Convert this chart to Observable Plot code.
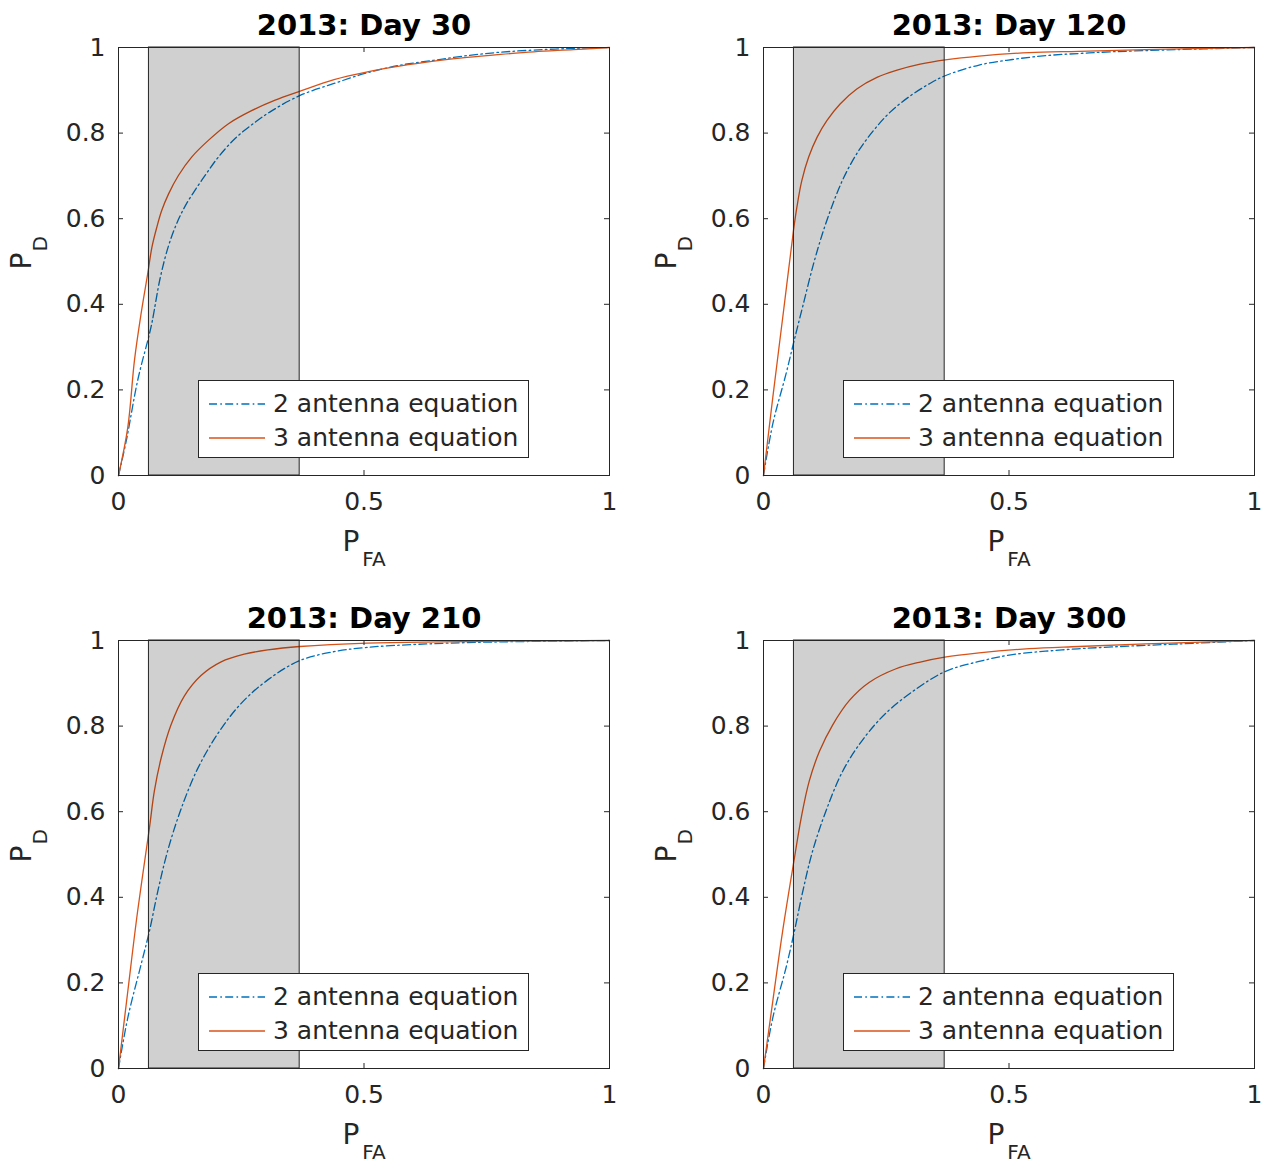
<!DOCTYPE html>
<html>
<head>
<meta charset="utf-8">
<script src="https://cdn.jsdelivr.net/npm/d3@7"></script>
<script src="https://cdn.jsdelivr.net/npm/@observablehq/plot@0.6"></script>
<style>
  html, body { margin: 0; padding: 0; background: #fff; }
  #root { position: relative; width: 1271px; height: 1164px; background: #fff; font-family: 'DejaVu Sans', sans-serif; }
  .panel { position: absolute; width: 635px; height: 590px; }
  .legend { position: absolute; left: 198px; top: 380px; width: 331px; height: 78px; box-sizing: border-box;
            border: 1px solid #262626; background: #fff; }
  .legend .row { position: absolute; left: 0; height: 30px; width: 100%; }
  .legend svg { position: absolute; left: 10px; top: 0; }
  .legend span { position: absolute; left: 74px; top: 0; line-height: 30px; font-size: 25px; color: #262626; white-space: nowrap; }
</style>
</head>
<body>
<div id="root"></div>
<script>
// ---- data ----
const titles = ["2013: Day 30", "2013: Day 120", "2013: Day 210", "2013: Day 300"];
const seriesNames = ["2 antenna equation", "3 antenna equation"];
const xTicks = [0, 0.5, 1];
const yTicks = [0, 0.2, 0.4, 0.6, 0.8, 1];
const shadeStart = 0.062;
const shadeEnd = 0.369;

// Day 30
const pfa2_d30 = [0, 0.016, 0.039, 0.063, 0.069, 0.085, 0.102, 0.119, 0.136, 0.156, 0.180, 0.204, 0.238, 0.272, 0.312, 0.370, 0.439, 0.507, 0.575, 0.642, 0.710, 0.778, 0.846, 0.927, 1];
const pd2_d30  = [0, 0.082, 0.222, 0.331, 0.362, 0.462, 0.537, 0.590, 0.630, 0.667, 0.707, 0.745, 0.788, 0.820, 0.852, 0.888, 0.916, 0.941, 0.959, 0.970, 0.981, 0.989, 0.994, 0.998, 1];
const pfa3_d30 = [0, 0.019, 0.0325, 0.046, 0.060, 0.068, 0.078, 0.088, 0.102, 0.122, 0.149, 0.183, 0.224, 0.272, 0.319, 0.370, 0.439, 0.507, 0.575, 0.642, 0.710, 0.778, 0.846, 0.927, 1];
const pd3_d30  = [0, 0.113, 0.269, 0.378, 0.475, 0.533, 0.580, 0.619, 0.658, 0.701, 0.744, 0.783, 0.822, 0.853, 0.877, 0.898, 0.925, 0.943, 0.957, 0.968, 0.977, 0.984, 0.990, 0.995, 1];

// Day 120
const pfa2_d120 = [0, 0.019, 0.046, 0.063, 0.081, 0.102, 0.122, 0.143, 0.163, 0.190, 0.224, 0.258, 0.299, 0.339, 0.370, 0.439, 0.507, 0.575, 0.642, 0.710, 0.812, 1];
const pd2_d120  = [0, 0.121, 0.238, 0.318, 0.400, 0.495, 0.572, 0.640, 0.695, 0.752, 0.806, 0.849, 0.887, 0.916, 0.934, 0.959, 0.972, 0.981, 0.986, 0.990, 0.994, 1];
const pfa3_d120 = [0, 0.019, 0.041, 0.061, 0.068, 0.078, 0.092, 0.109, 0.129, 0.156, 0.190, 0.231, 0.272, 0.319, 0.370, 0.439, 0.541, 0.642, 0.778, 1];
const pd3_d120  = [0, 0.183, 0.386, 0.572, 0.627, 0.689, 0.744, 0.790, 0.829, 0.868, 0.903, 0.930, 0.947, 0.961, 0.971, 0.980, 0.988, 0.991, 0.995, 1];

// Day 210
const pfa2_d210 = [0, 0.019, 0.046, 0.063, 0.080, 0.100, 0.127, 0.161, 0.202, 0.249, 0.304, 0.369, 0.439, 0.507, 0.608, 0.744, 1];
const pd2_d210  = [0, 0.119, 0.243, 0.321, 0.414, 0.508, 0.605, 0.700, 0.782, 0.852, 0.908, 0.953, 0.974, 0.984, 0.991, 0.996, 1];
const pfa3_d210 = [0, 0.019, 0.039, 0.063, 0.073, 0.087, 0.107, 0.134, 0.168, 0.209, 0.256, 0.304, 0.369, 0.507, 1];
const pd3_d210  = [0, 0.181, 0.368, 0.562, 0.648, 0.726, 0.803, 0.870, 0.918, 0.950, 0.968, 0.978, 0.986, 0.994, 1];

// Day 300
const pfa2_d300 = [0, 0.019, 0.046, 0.063, 0.080, 0.100, 0.127, 0.161, 0.202, 0.249, 0.304, 0.369, 0.439, 0.507, 0.608, 0.710, 0.846, 1];
const pd2_d300  = [0, 0.119, 0.236, 0.321, 0.414, 0.508, 0.601, 0.694, 0.768, 0.830, 0.881, 0.927, 0.951, 0.967, 0.978, 0.985, 0.992, 1];
const pfa3_d300 = [0, 0.019, 0.039, 0.063, 0.077, 0.093, 0.114, 0.141, 0.175, 0.215, 0.270, 0.317, 0.369, 0.439, 0.541, 0.642, 0.778, 1];
const pd3_d300  = [0, 0.158, 0.321, 0.492, 0.587, 0.671, 0.741, 0.803, 0.860, 0.902, 0.934, 0.949, 0.961, 0.971, 0.981, 0.986, 0.992, 1];

const pfa2 = [pfa2_d30, pfa2_d120, pfa2_d210, pfa2_d300];
const pd2  = [pd2_d30, pd2_d120, pd2_d210, pd2_d300];
const pfa3 = [pfa3_d30, pfa3_d120, pfa3_d210, pfa3_d300];
const pd3  = [pd3_d30, pd3_d120, pd3_d210, pd3_d300];

// ---- styles ----
const blue = "#0072BD";
const orange = "#D95319";
const axisColor = "#262626";
const dashDot = "8,3.3,1.6,3.3";

const W = 635, H = 590, ML = 118, MR = 26, MT = 47, MB = 115;
const plotW = W - ML - MR, plotH = H - MT - MB;

const root = document.getElementById("root");

for (let i = 0; i < 4; i++) {
  const d2 = pfa2[i].map((x, j) => ({x, y: pd2[i][j]}));
  const d3_ = pfa3[i].map((x, j) => ({x, y: pd3[i][j]}));
  const shade = [{x1: shadeStart, x2: shadeEnd, y1: 0, y2: 1}];

  const chart = Plot.plot({
    width: W, height: H,
    marginLeft: ML, marginRight: MR, marginTop: MT, marginBottom: MB,
    x: {domain: [0, 1]},
    y: {domain: [0, 1]},
    style: {fontFamily: "'DejaVu Sans', sans-serif", fontSize: "25px", color: axisColor, background: "transparent", overflow: "visible"},
    marks: [
      Plot.line(d2, {x: "x", y: "y", stroke: blue, strokeWidth: 1.3, strokeDasharray: dashDot, curve: "catmull-rom"}),
      Plot.line(d3_, {x: "x", y: "y", stroke: orange, strokeWidth: 1.3, curve: "catmull-rom"}),
      Plot.rect(shade, {x1: "x1", x2: "x2", y1: "y1", y2: "y2", fill: "black", fillOpacity: 0.185, stroke: axisColor, strokeWidth: 1}),
      Plot.frame({stroke: axisColor, strokeWidth: 1}),
      // inward ticks on all four sides
      Plot.tickX(xTicks, {x: d => d, insetTop: plotH - 5, stroke: axisColor}),
      Plot.tickX(xTicks, {x: d => d, insetBottom: plotH - 5, stroke: axisColor}),
      Plot.tickY(yTicks, {y: d => d, insetRight: plotW - 5, stroke: axisColor}),
      Plot.tickY(yTicks, {y: d => d, insetLeft: plotW - 5, stroke: axisColor}),
      Plot.axisX({ticks: xTicks, tickSize: 0, tickPadding: 17, tickFormat: d => String(d), label: null}),
      Plot.axisY({ticks: yTicks, tickSize: 0, tickPadding: 13, tickFormat: d => String(d), label: null}),
      // title
      Plot.text([titles[i]], {frameAnchor: "top", dy: -13, lineAnchor: "bottom", fontSize: 29, fontWeight: "bold", fill: "black"}),
      // x label P_FA
      Plot.text(["P"], {frameAnchor: "bottom", dx: -13, dy: 75, lineAnchor: "bottom", fontSize: 28, fill: axisColor}),
      Plot.text(["FA"], {frameAnchor: "bottom", dx: 10, dy: 90, lineAnchor: "bottom", fontSize: 20, fill: axisColor}),
      // y label P_D
      Plot.text(["P"], {frameAnchor: "left", dx: -96, dy: 8, rotate: -90, lineAnchor: "middle", fontSize: 28, fill: axisColor}),
      Plot.text(["D"], {frameAnchor: "left", dx: -78, dy: -10, rotate: -90, lineAnchor: "middle", fontSize: 20, fill: axisColor})
    ]
  });

  const panel = document.createElement("div");
  panel.className = "panel";
  panel.style.left = ((i % 2) * 645) + "px";
  panel.style.top = (Math.floor(i / 2) * 593) + "px";
  panel.appendChild(chart);

  // legend
  const legend = document.createElement("div");
  legend.className = "legend";
  const rowsInfo = [
    {name: seriesNames[0], color: blue, dash: dashDot, top: 8},
    {name: seriesNames[1], color: orange, dash: null, top: 42}
  ];
  for (const r of rowsInfo) {
    const row = document.createElement("div");
    row.className = "row";
    row.style.top = r.top + "px";
    const svg = d3.create("svg").attr("width", 56).attr("height", 30);
    svg.append("line").attr("x1", 0).attr("x2", 56).attr("y1", 15).attr("y2", 15)
      .attr("stroke", r.color).attr("stroke-width", 1.3)
      .attr("stroke-dasharray", r.dash);
    row.appendChild(svg.node());
    const span = document.createElement("span");
    span.textContent = r.name;
    row.appendChild(span);
    legend.appendChild(row);
  }
  panel.appendChild(legend);
  root.appendChild(panel);
}
</script>
</body>
</html>
